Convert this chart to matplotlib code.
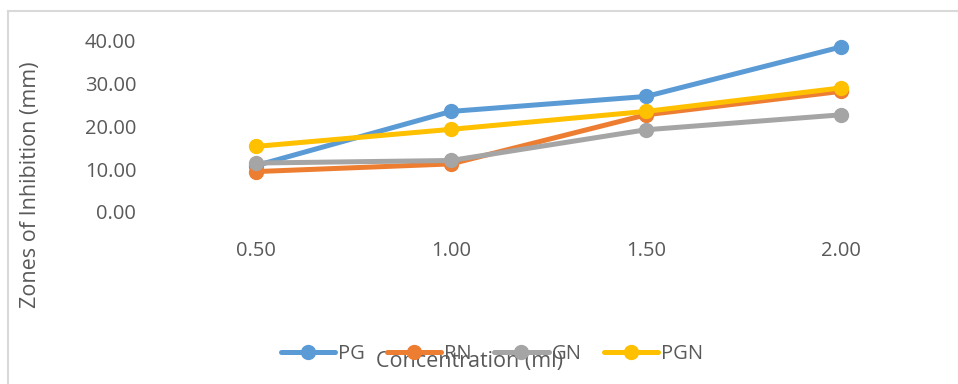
import matplotlib
matplotlib.use("Agg")
import matplotlib.pyplot as plt
from matplotlib.lines import Line2D

# concentration categories (ml) and zone-of-inhibition readings (mm)
concentrations = ["0.50", "1.00", "1.50", "2.00"]
pg = [10.8, 23.5, 27.0, 38.6]
rn = [9.4, 11.2, 22.7, 28.2]
gn = [11.4, 12.0, 19.2, 22.7]
pgn = [15.3, 19.3, 23.5, 29.0]

series_names = ["PG", "RN", "GN", "PGN"]
colors = ["#5b9bd5", "#ed7d31", "#a5a5a5", "#ffc000"]
text_color = "#595959"

plt.rcParams["font.family"] = ["Open Sans", "DejaVu Sans"]

W, H = 958, 384
fig = plt.figure(figsize=(W / 100, H / 100), dpi=100)

# light frame along the top and left edges
fig.add_artist(Line2D([8 / W, 8 / W], [0, 1 - 11 / H], transform=fig.transFigure,
                      color="#d9d9d9", lw=1.5))
fig.add_artist(Line2D([8 / W, 1], [1 - 11 / H, 1 - 11 / H], transform=fig.transFigure,
                      color="#d9d9d9", lw=1.5))

left, right = 158.5 / W, 938.5 / W
bottom, top = 1 - 211.7 / H, 1 - 41 / H
ax = fig.add_axes([left, bottom, right - left, top - bottom])

x = range(len(concentrations))
for name, vals, c in zip(series_names, [pg, rn, gn, pgn], colors):
    ax.plot(x, vals, color=c, lw=3.6, marker="o", markersize=10,
            solid_capstyle="round", label=name, clip_on=False)

ax.set_xlim(-0.5, len(concentrations) - 0.5)
ax.set_ylim(0, 40)
ax.set_xticks(list(x))
ax.set_xticklabels(concentrations)
ax.set_yticks([0, 10, 20, 30, 40])
ax.set_yticklabels([f"{v:.2f}" for v in [0, 10, 20, 30, 40]])
ax.tick_params(length=0, labelsize=14.5, colors=text_color)
ax.tick_params(axis="x", pad=21)
ax.tick_params(axis="y", pad=16)
for s in ax.spines.values():
    s.set_visible(False)

fig.text(31 / W, 1 - 185 / H, "Zones of Inhibition (mm)", rotation=90,
         ha="center", va="center", fontsize=15.5, color=text_color)

leg = fig.legend(loc="center", bbox_to_anchor=(492 / W, 1 - 354 / H), ncol=4,
                 frameon=False, fontsize=14.5, handlelength=2.7, handletextpad=0.15,
                 columnspacing=1.1, labelcolor=text_color)

fig.text(470 / W, 1 - 362 / H, "Concentration (ml)", ha="center", va="center",
         fontsize=15.5, color=text_color)

fig.savefig("out.png", dpi=100)
